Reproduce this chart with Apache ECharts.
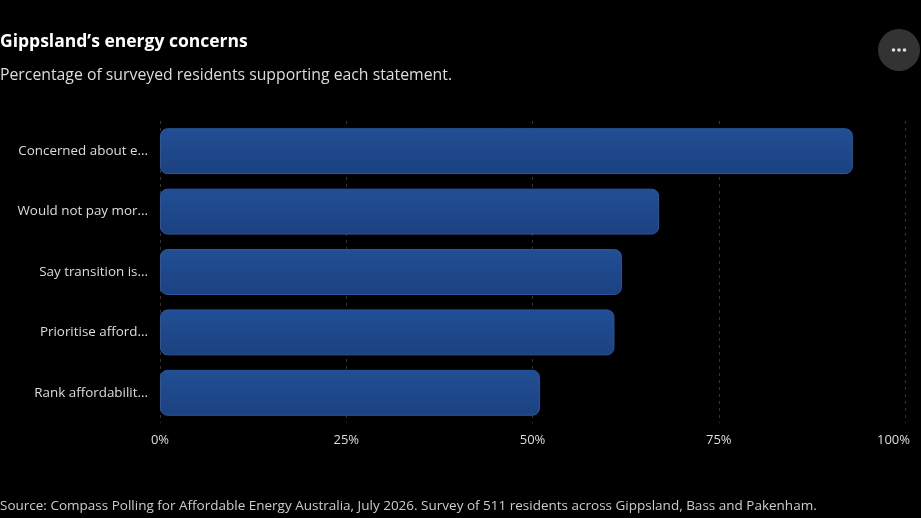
<!DOCTYPE html>
<html>
<head>
<meta charset="utf-8">
<script src="https://cdn.jsdelivr.net/npm/echarts@6/dist/echarts.min.js"></script>
<style>
html,body{margin:0;padding:0;background:#000;}
#chart{width:921px;height:518px;}
</style>
</head>
<body>
<div id="chart"></div>
<script>
const categories = [
  "Concerned about e...",
  "Would not pay mor...",
  "Say transition is...",
  "Prioritise afford...",
  "Rank affordabilit..."
];
const values = [93, 67, 62, 61, 51];
const tickLabels = ["0%", "25%", "50%", "75%", "100%"];
const titleText = "Gippsland\u2019s energy concerns";
const subtitleText = "Percentage of surveyed residents supporting each statement.";
const sourceText = "Source: Compass Polling for Affordable Energy Australia, July 2026. Survey of 511 residents across Gippsland, Bass and Pakenham.";

const FONT = "'Open Sans', 'Noto Sans', sans-serif";
const chart = echarts.init(document.getElementById('chart'), null, {renderer: 'canvas'});
chart.setOption({
  backgroundColor: '#000',
  animation: false,
  textStyle: {fontFamily: FONT},
  title: [
    {text: titleText, left: 0, top: 33, padding: 0,
     textStyle: {color: '#fff', fontSize: 17.5, fontWeight: 'bold', fontFamily: FONT}},
    {text: subtitleText, left: 0, top: 67, padding: 0,
     textStyle: {color: '#ddd', fontSize: 15.8, fontWeight: 'normal', fontFamily: FONT}},
    {text: sourceText, left: 0, top: 499, padding: 0,
     textStyle: {color: '#ccc', fontSize: 13.5, fontWeight: 'normal', fontFamily: FONT}}
  ],
  grid: {left: 160, right: 16, top: 121, bottom: 95, containLabel: false, outerBoundsMode: 'none'},
  xAxis: {
    type: 'value', min: 0, max: 100, interval: 25,
    axisLine: {show: false}, axisTick: {show: false},
    splitLine: {show: true, lineStyle: {color: '#333', type: [3, 4], width: 1}},
    axisLabel: {color: '#ddd', fontSize: 13, margin: 11, fontFamily: FONT,
      formatter: function (v) {
        const t = tickLabels[Math.round(v / 25)];
        return v === 100 ? '{m|' + t + '}' : t;
      },
      rich: {m: {color: '#ddd', fontSize: 13, fontFamily: FONT, padding: [0, 23, 0, 0]}}
    }
  },
  yAxis: {
    type: 'category', data: categories, inverse: true,
    axisLine: {show: false}, axisTick: {show: false},
    axisLabel: {color: '#ddd', fontSize: 13.4, margin: 12, fontFamily: FONT}
  },
  series: [{
    type: 'bar', data: values, barWidth: '76%',
    itemStyle: {
      borderRadius: 7,
      borderColor: '#2a58a0', borderWidth: 1,
      color: new echarts.graphic.LinearGradient(0, 0, 0, 1, [
        {offset: 0, color: '#214f95'},
        {offset: 1, color: '#1c4180'}
      ])
    }
  }],
  graphic: [
    {type: 'circle', shape: {cx: 899, cy: 50, r: 21}, style: {fill: '#333'}},
    {type: 'circle', shape: {cx: 893.5, cy: 50, r: 1.8}, style: {fill: '#ddd'}},
    {type: 'circle', shape: {cx: 899, cy: 50, r: 1.8}, style: {fill: '#ddd'}},
    {type: 'circle', shape: {cx: 904.5, cy: 50, r: 1.8}, style: {fill: '#ddd'}}
  ]
});
</script>
</body>
</html>
